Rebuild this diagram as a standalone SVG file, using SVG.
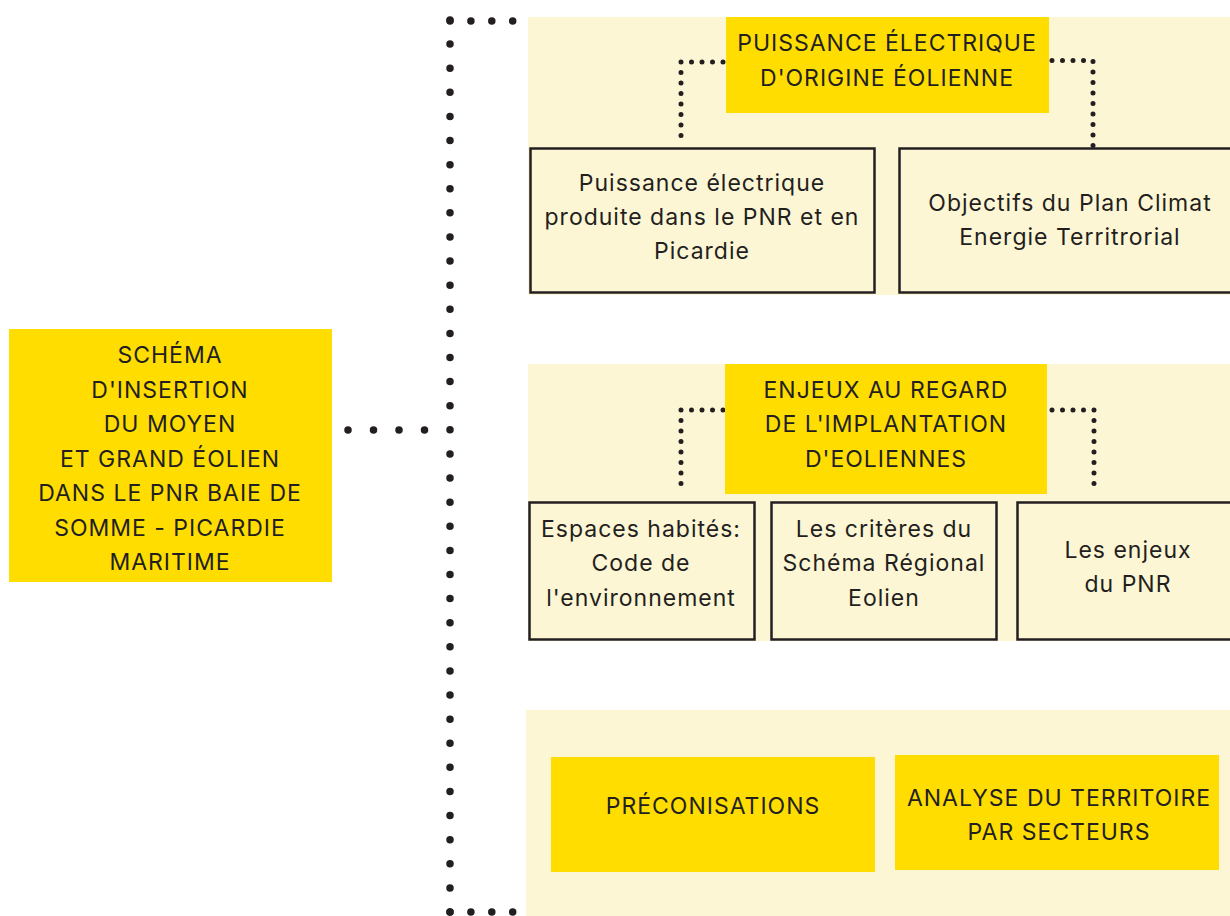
<svg xmlns="http://www.w3.org/2000/svg" width="1230" height="916" viewBox="0 0 1230 916">
<style>
.bg{fill:#ffffff}
.panel{fill:#FDF6D5}
.hl{fill:#FFDD00}
.box{fill:#FDF6D5;stroke:#231f20;stroke-width:2.5}
text{font-family:"Inter","Roboto","Liberation Sans",sans-serif;font-size:23px;letter-spacing:1px;fill:#231f20;text-anchor:middle}
.big{fill:none;stroke:#231f20;stroke-width:7.5;stroke-linecap:round}
.small{fill:none;stroke:#231f20;stroke-width:5;stroke-linecap:round;stroke-dasharray:0 10.5}
</style>
<rect class="bg" x="0" y="0" width="1230" height="916"/>
<g id="panels">
<rect class="panel" x="528" y="17" width="702" height="278"/>
<rect class="panel" x="528" y="364" width="702" height="277"/>
<rect class="panel" x="526" y="710" width="704" height="206"/>
</g>
<g id="connectors">
<path class="big" d="M450 20 V912" stroke-dasharray="0 24.108"/>
<path class="big" d="M450 21 H513" stroke-dasharray="0 20.9"/>
<path class="big" d="M450 912 H513" stroke-dasharray="0 20.9"/>
<path class="big" d="M348 430 H450" stroke-dasharray="0 25.5"/>
<path class="small" d="M723 62 H681 V146"/>
<path class="small" d="M1052 60.5 H1093 V146"/>
<path class="small" d="M723 410 H681 V494"/>
<path class="small" d="M1052 410 H1094 V494"/>
</g>
<g id="main">
<rect class="hl" x="9" y="329" width="323" height="253"/>
<text x="170" y="363">SCHÉMA</text>
<text x="170" y="397.5">D'INSERTION</text>
<text x="170" y="432">DU MOYEN</text>
<text x="170" y="466.5">ET GRAND ÉOLIEN</text>
<text x="170" y="501">DANS LE PNR BAIE DE</text>
<text x="170" y="535.5">SOMME - PICARDIE</text>
<text x="170" y="570">MARITIME</text>
</g>
<g id="title1">
<rect class="hl" x="726" y="17" width="323" height="96"/>
<text x="887" y="51">PUISSANCE ÉLECTRIQUE</text>
<text x="887" y="86">D'ORIGINE ÉOLIENNE</text>
</g>
<g id="box1a">
<rect class="box" x="530.5" y="148.5" width="344" height="144"/>
<text x="702" y="191">Puissance électrique</text>
<text x="702" y="225">produite dans le PNR et en</text>
<text x="702" y="259">Picardie</text>
</g>
<g id="box1b">
<rect class="box" x="899.5" y="148.5" width="340" height="144"/>
<text x="1070" y="211">Objectifs du Plan Climat</text>
<text x="1070" y="245">Energie Territrorial</text>
</g>
<g id="title2">
<rect class="hl" x="725" y="364" width="322" height="130"/>
<text x="886" y="398">ENJEUX AU REGARD</text>
<text x="886" y="432">DE L'IMPLANTATION</text>
<text x="886" y="467">D'EOLIENNES</text>
</g>
<g id="box2a">
<rect class="box" x="529.5" y="502.5" width="225" height="137"/>
<text x="641" y="537">Espaces habités:</text>
<text x="641" y="571">Code de</text>
<text x="641" y="606">l'environnement</text>
</g>
<g id="box2b">
<rect class="box" x="771.5" y="502.5" width="225" height="137"/>
<text x="884" y="537">Les critères du</text>
<text x="884" y="571">Schéma Régional</text>
<text x="884" y="606">Eolien</text>
</g>
<g id="box2c">
<rect class="box" x="1017.5" y="502.5" width="222" height="137"/>
<text x="1128" y="558">Les enjeux</text>
<text x="1128" y="592">du PNR</text>
</g>
<g id="preco">
<rect class="hl" x="551" y="757" width="324" height="115"/>
<text x="713" y="814">PRÉCONISATIONS</text>
</g>
<g id="analyse">
<rect class="hl" x="895" y="755" width="324" height="115"/>
<text x="1059" y="806">ANALYSE DU TERRITOIRE</text>
<text x="1059" y="840">PAR SECTEURS</text>
</g>
</svg>
